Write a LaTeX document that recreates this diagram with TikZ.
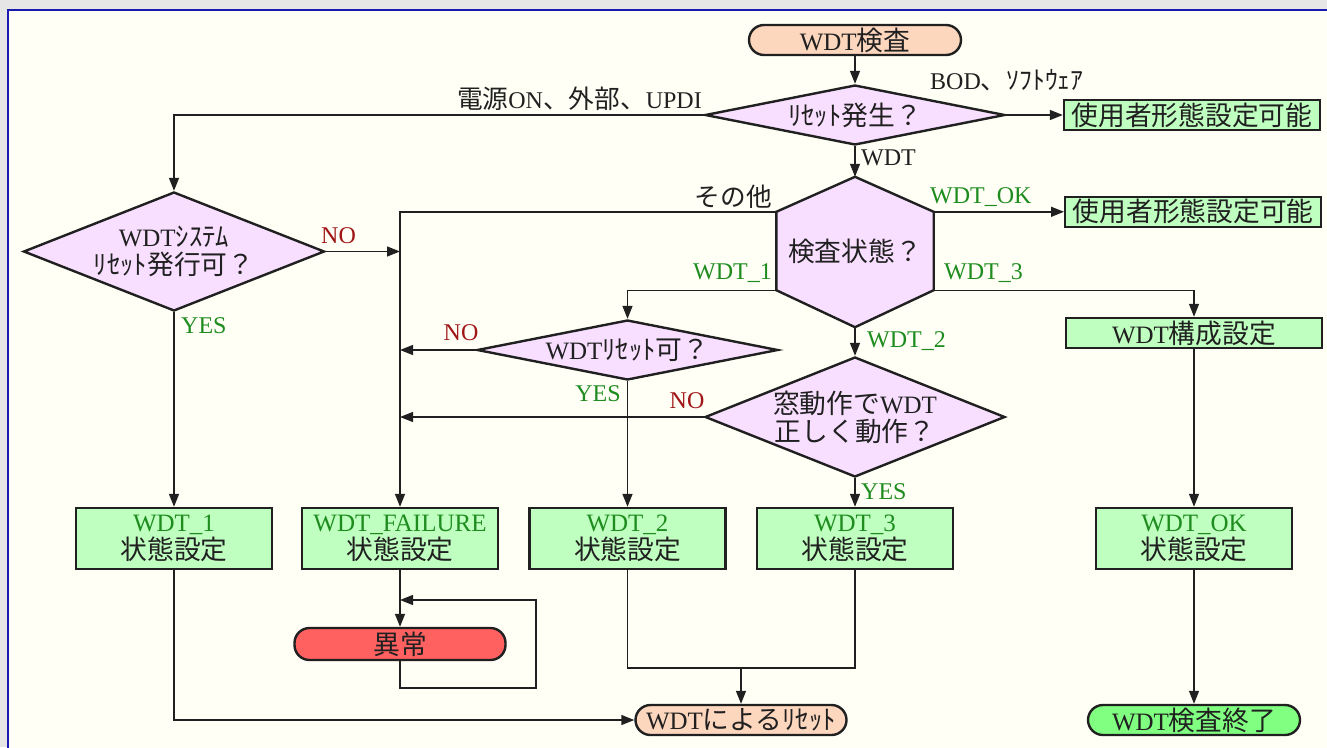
\documentclass[tikz,border=0pt]{standalone}
\usepackage{fontspec}
\setmainfont{Liberation Serif}
\newfontfamily\jp[Scale=1.07]{Noto Sans CJK JP}
\usetikzlibrary{arrows.meta,shapes.geometric,backgrounds,calc}
\newcommand\J[1]{{\jp #1}}
\definecolor{ink}{HTML}{202020}
\definecolor{panel}{HTML}{FFFFF6}
\definecolor{frame}{HTML}{1A1AB0}
\definecolor{band}{HTML}{E6E6E6}
\definecolor{decfill}{HTML}{F8DFFF}
\definecolor{boxfill}{HTML}{BFFFBF}
\definecolor{startfill}{HTML}{FDD6BE}
\definecolor{errfill}{HTML}{FF6060}
\definecolor{endfill}{HTML}{80FF80}
\definecolor{yesc}{HTML}{1E8C1E}
\definecolor{noc}{HTML}{A01515}
\begin{document}
\begin{tikzpicture}[x=1pt,y=-1pt,
 every node/.style={font=\fontsize{25}{28}\selectfont, text=ink},
 dec/.style={diamond, draw=ink, line width=2.4pt, fill=decfill, inner sep=0pt, align=center},
 sbox/.style={rectangle, draw=ink, line width=2.4pt, fill=boxfill, inner sep=0pt, align=center},
 pill/.style={rectangle, rounded corners=15pt, draw=ink, line width=2.4pt, inner sep=0pt, minimum height=30pt},
 conn/.style={draw=ink, line width=1.4pt},
 arr/.style={conn, -{Triangle[length=13pt,width=10pt]}},
 lbl/.style={font=\fontsize{24}{28}\selectfont, inner sep=0pt},
 yes/.style={lbl, text=yesc},
 no/.style={lbl, text=noc},
]
\useasboundingbox (0,0) rectangle (1327,747);

% nodes
\node[pill, fill=startfill, minimum width=212pt] (start) at (855,40) {WDT\J{検査}};
\node[dec, aspect=5, minimum width=300pt, minimum height=60pt] (d1) at (855,115) {\J{ﾘｾｯﾄ発生？}};
\node[sbox, minimum width=256pt, minimum height=30pt] (use1) at (1192,115) {\J{使用者形態設定可能}};
\node[inner sep=0pt, minimum width=157pt, minimum height=78pt] (hex) at (855,251) {\J{検査状態？}};
\coordinate (hexT) at ([yshift=35pt]hex.north);
\coordinate (hexB) at ([yshift=-37pt]hex.south);
\node[sbox, minimum width=256pt, minimum height=30pt, anchor=west] (use2) at (hex.north east -| 1064,0) {\J{使用者形態設定可能}};
\node[dec, aspect=2.53, minimum width=301pt, minimum height=119pt] (d2) at (174,251.5) {WDT\J{ｼｽﾃﾑ}\\\J{ﾘｾｯﾄ発行可？}};
\node[dec, aspect=5, minimum width=301pt, minimum height=60pt] (d3) at (627.5,350) {WDT\J{ﾘｾｯﾄ可？}};
\node[dec, aspect=2.5, minimum width=300pt, minimum height=120pt] (d4) at (855,417) {\J{窓動作で}WDT\\\J{正しく動作？}};
\node[sbox, minimum width=256pt, minimum height=30pt] (cfg) at (1194,333) {WDT\J{構成設定}};

\node[sbox, minimum width=196pt, minimum height=61pt] (w1) at (174,538.5) {{\color{yesc}WDT\_1}\\\J{状態設定}};
\node[sbox, minimum width=196pt, minimum height=61pt] (fail) at (400,538.5) {{\color{yesc}WDT\_FAILURE}\\\J{状態設定}};
\node[sbox, minimum width=196pt, minimum height=61pt] (w2) at (627.5,538.5) {{\color{yesc}WDT\_2}\\\J{状態設定}};
\node[sbox, minimum width=196pt, minimum height=61pt] (w3) at (855,538.5) {{\color{yesc}WDT\_3}\\\J{状態設定}};
\node[sbox, minimum width=196pt, minimum height=61pt] (wok) at (1194,538.5) {{\color{yesc}WDT\_OK}\\\J{状態設定}};

\node[pill, fill=errfill, minimum width=211pt, minimum height=32pt] (err) at (400,644) {\J{異常}};
\node[pill, fill=startfill, minimum width=211pt] (reset) at (741,720) {WDT\J{によるﾘｾｯﾄ}};
\node[pill, fill=endfill, minimum width=212pt] (end) at (1194,720) {WDT\J{検査終了}};

% background panel and hexagon
\begin{scope}[on background layer]
 \fill[band] (0,0) rectangle (1327,747);
 \fill[panel] (8,10) rectangle (1345,765);
 \draw[frame, line width=1.8pt] (8,10) rectangle (1345,765);
 \draw[ink, line width=2.4pt, fill=decfill, line join=miter]
   (hex.north west) -- (hexT) -- (hex.north east) -- (hex.south east)
   -- (hexB) -- (hex.south west) -- cycle;
\end{scope}

% connectors
\draw[arr] (start.south) -- (d1.north);
\draw[arr] (d1.west) -| (d2.north);
\draw[arr] (d1.east) -- (use1.west);
\draw[arr] (d1.south) -- (hexT);
\draw[arr] (hex.north west) -| (fail.north);
\draw[arr] (hex.north east) -- (use2.west);
\draw[arr] (hex.south west) -| (d3.north);
\draw[arr] (hex.south east) -| (cfg.north);
\draw[arr] (hexB) -- (d4.north);
\draw[arr] (d2.east) -- (d2.east -| fail.north);
\draw[arr] (d3.west) -- (d3.west -| fail.north);
\draw[arr] (d4.west) -- (d4.west -| fail.north);
\draw[arr] (d2.south) -- (w1.north);
\draw[arr] (d3.south) -- (w2.north);
\draw[arr] (d4.south) -- (w3.north);
\draw[arr] (cfg.south) -- (wok.north);
\draw[arr] (fail.south) -- (err.north);
\coordinate (lp1) at (536,688);
\coordinate (lp2) at (536,600);
\draw[arr] (err.south) |- (lp1) -- (lp2) -- (lp2 -| err.north);
\draw[arr] (w1.south) |- (reset.west);
\coordinate (mrg) at (741,668);
\draw[conn] (w2.south) |- (mrg);
\draw[conn] (w3.south) |- (mrg);
\draw[arr] (mrg) -- (reset.north);
\draw[arr] (wok.south) -- (end.north);

% labels
\node[lbl, anchor=east] (l1) at (702,99) {\J{電源}ON\J{、外部、}UPDI};
\node[lbl, anchor=west] (l2) at (930,80) {BOD\J{、ｿﾌﾄｳｪｱ}};
\node[lbl, anchor=west] (l3) at (861,158) {WDT};
\node[lbl, anchor=east] (l4) at (772,197) {\J{その他}};
\node[yes, anchor=west] (l5) at (930,197) {WDT\_OK};
\node[yes, anchor=east] (l6) at (772,273) {WDT\_1};
\node[yes, anchor=west] (l7) at (944,273) {WDT\_3};
\node[yes, anchor=west] (l8) at (867,341) {WDT\_2};
\node[no, anchor=west] (l9) at (321,236) {NO};
\node[yes, anchor=west] (l10) at (181,326) {YES};
\node[no] (l11) at (461,333) {NO};
\node[yes] (l12) at (598,394) {YES};
\node[no] (l13) at (687,401) {NO};
\node[yes, anchor=west] (l14) at (861,492) {YES};
\end{tikzpicture}
\end{document}
